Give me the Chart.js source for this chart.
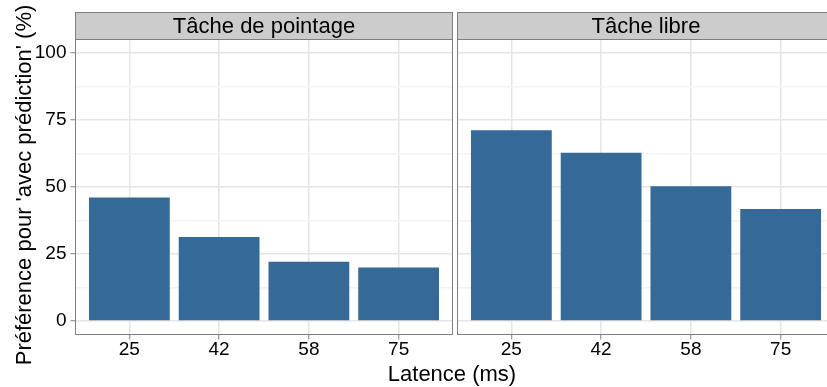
<!DOCTYPE html>
<html lang="fr">
<head>
<meta charset="utf-8">
<title>Préférence pour 'avec prédiction'</title>
<script src="https://cdn.jsdelivr.net/npm/chart.js@4/dist/chart.umd.min.js"></script>
<style>
  html, body { margin: 0; padding: 0; background: #fff; overflow: hidden; }
  #figure { position: relative; width: 827px; height: 387px; overflow: hidden; }
  #figure canvas { position: absolute; top: 0; }
  #left-panel { left: 0; }
  #right-panel { left: 456px; }
  .axis-title {
    position: absolute;
    font: 22px 'Liberation Sans', Arial, Helvetica, sans-serif;
    line-height: 26px;
    height: 26px;
    text-align: center;
    color: #000;
    white-space: nowrap;
  }
  #x-title { left: 0; width: 904px; top: 361px; }
  #y-title { left: -176px; width: 400px; top: 172px; transform: rotate(-90deg); }
</style>
</head>
<body>
<div id="figure">
  <canvas id="left-panel" width="456" height="387"></canvas>
  <canvas id="right-panel" width="384" height="387"></canvas>
  <div id="x-title" class="axis-title"></div>
  <div id="y-title" class="axis-title"></div>
</div>
<script>
// Latency conditions (ms)
const latencies = ['25', '42', '58', '75'];
// Share of participants preferring 'avec prédiction', per task (%)
const pointingPref = [46.1, 31.4, 22.1, 20.0];
const freePref = [71.2, 62.8, 50.3, 41.8];
const facetLabels = ['Tâche de pointage', 'Tâche libre'];
const yMajorTicks = [0, 25, 50, 75, 100];
const yMinorTicks = [12.5, 37.5, 62.5, 87.5];
const xTitle = 'Latence (ms)';
const yTitle = "Préférence pour 'avec prédiction' (%)";

const FONT = "'Liberation Sans', Arial, Helvetica, sans-serif";
const BAR_COLOR = '#346998';
const BORDER_COLOR = '#7f7f7f';
const STRIP_FILL = '#cccccc';
const STRIP_HEIGHT = 27;
const GRID_MAJOR = '#e6e6e6';
const GRID_MINOR = '#f4f4f4';

document.getElementById('x-title').textContent = xTitle;
document.getElementById('y-title').textContent = yTitle;

const isMajor = v => yMajorTicks.includes(v);

// Grey facet strip above the panel plus the panel frame
const facetStrip = {
  id: 'facetStrip',
  afterDraw(chart, args, opts) {
    const { ctx, chartArea } = chart;
    const { left, top, width, height } = chartArea;
    ctx.save();
    ctx.fillStyle = STRIP_FILL;
    ctx.fillRect(left, top - STRIP_HEIGHT, width, STRIP_HEIGHT);
    ctx.strokeStyle = BORDER_COLOR;
    ctx.lineWidth = 1;
    ctx.strokeRect(left, top - STRIP_HEIGHT, width, STRIP_HEIGHT);
    ctx.strokeRect(left, top, width, height);
    ctx.fillStyle = '#000';
    ctx.font = `22px ${FONT}`;
    ctx.textAlign = 'center';
    ctx.textBaseline = 'alphabetic';
    ctx.fillText(opts.label, left + width / 2, top - 7);
    ctx.restore();
  }
};

function drawPanel(canvasId, label, values, showYAxis, padRight) {
  const yWidth = showYAxis ? 75.5 : 1.5;

  return new Chart(document.getElementById(canvasId), {
    type: 'bar',
    data: {
      datasets: [{
        data: values.map((v, i) => ({ x: i + 1, y: v })),
        backgroundColor: BAR_COLOR,
        borderWidth: 0,
        categoryPercentage: 0.9,
        barPercentage: 1
      }]
    },
    plugins: [facetStrip],
    options: {
      responsive: false,
      animation: false,
      events: [],
      layout: { padding: { top: 39.5, right: padRight, left: 0, bottom: 0 } },
      plugins: {
        legend: { display: false },
        tooltip: { enabled: false },
        facetStrip: { label: label }
      },
      scales: {
        x: {
          type: 'linear',
          min: 0.4,
          max: 4.6,
          offset: false,
          afterBuildTicks: scale => {
            scale.ticks = latencies.map((_, i) => ({ value: i + 1 }));
          },
          afterFit: scale => { scale.height = 52.5; },
          border: { display: false },
          grid: {
            offset: false,
            color: GRID_MAJOR,
            lineWidth: 1.5,
            tickLength: 5,
            tickColor: BORDER_COLOR,
            tickWidth: 1
          },
          ticks: {
            color: '#000',
            font: { family: FONT, size: 19 },
            padding: -1,
            maxRotation: 0,
            autoSkip: false,
            callback: v => latencies[v - 1]
          }
        },
        y: {
          min: -5,
          max: 105,
          afterBuildTicks: scale => {
            scale.ticks = [...yMajorTicks, ...yMinorTicks]
              .sort((a, b) => a - b)
              .map(value => ({ value }));
          },
          afterFit: scale => { scale.width = yWidth; },
          border: { display: false },
          grid: {
            color: c => (c.tick && isMajor(c.tick.value)) ? GRID_MAJOR : GRID_MINOR,
            lineWidth: 1.5,
            drawTicks: showYAxis,
            tickLength: 5,
            tickWidth: 1,
            tickColor: c => (c.tick && isMajor(c.tick.value)) ? BORDER_COLOR : 'rgba(0,0,0,0)'
          },
          ticks: {
            display: showYAxis,
            color: '#000',
            font: { family: FONT, size: 19 },
            padding: 4,
            autoSkip: false,
            callback: v => isMajor(v) ? String(v) : ''
          }
        }
      }
    }
  });
}

drawPanel('left-panel', facetLabels[0], pointingPref, true, 3.5);
drawPanel('right-panel', facetLabels[1], freePref, false, 5.5);
</script>
</body>
</html>
